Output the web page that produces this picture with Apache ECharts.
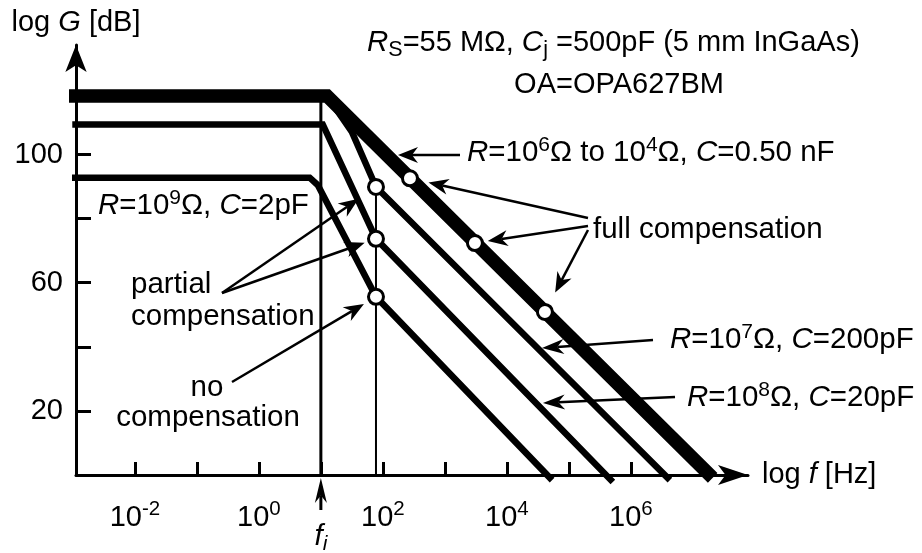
<!DOCTYPE html>
<html>
<head>
<meta charset="utf-8">
<title>Photodiode amplifier gain vs frequency</title>
<script src="https://cdn.jsdelivr.net/npm/echarts@6.0.0/dist/echarts.min.js"></script>
<style>
html, body { margin: 0; padding: 0; background: #fff; }
#chart { width: 922px; height: 553px; }
</style>
</head>
<body>
<div id="chart"></div>
<script>
// Decade positions on the frequency axis (log10 f) and gain axis (dB)
const freqTicks = [-2, -1, 0, 1, 2, 3, 4, 5, 6];
const freqLabels = [-2, 0, 2, 4, 6];
const gainTicks = [20, 40, 60, 80, 100];
const gainLabels = [20, 60, 100];

// Bode asymptotes, [log10 f, gain in dB]
const fullCompensation = [[-3.1, 118.3], [1.1, 118.3], [7.32, -0.9]];
const curveR7 = [[-3.1, 118.3], [1.1, 118.3], [1.5, 107.1], [1.889, 89.9], [6.63, -1.6]];
const curveR8 = [[-3.01, 109.4], [1.03, 109.4], [1.889, 73.7], [5.71, -2.2]];
const curveR9 = [[-3.02, 92.8], [0.82, 92.8], [0.95, 90.5], [1.889, 55.6], [4.73, -1.6]];

// Circled points on the curves
const fullPoints = [[2.437, 92.6], [3.485, 72.4], [4.614, 50.9]];
const partialPoints = [[1.889, 89.9], [1.889, 73.7]];
const noCompPoints = [[1.889, 55.6]];

// Vertical markers: input corner f_i and the frequency of the circled points
const fiLine = [[1.0, 0], [1.0, 118.3]];
const markerLine = [[1.889, 0], [1.889, 89.9]];

const FONT = '"Liberation Sans", Arial, Helvetica, sans-serif';
const BLACK = '#000';
const TEXT_SIZE = 29.5;

const chart = echarts.init(document.getElementById('chart'), null, { renderer: 'canvas' });

const axisRich = {
  n: { fontSize: 29, fontFamily: FONT, color: BLACK },
  s: { fontSize: 20.5, fontFamily: FONT, color: BLACK, padding: [0, 0, 16, 0] },
  i: { fontSize: 29, fontFamily: FONT, color: BLACK, fontStyle: 'italic' }
};

function curve(data, width, z) {
  return {
    type: 'line', data, symbol: 'none', clip: false, silent: true, animation: false, z: z || 3,
    lineStyle: { color: BLACK, width, join: 'miter', cap: 'butt' }
  };
}
function circles(data) {
  return {
    type: 'scatter', data, symbol: 'circle', symbolSize: 15, clip: false, silent: true, animation: false, z: 6,
    itemStyle: { color: '#fff', borderColor: BLACK, borderWidth: 3, opacity: 1 }
  };
}

chart.setOption({
  animation: false,
  backgroundColor: '#fff',
  grid: { left: 76, right: 174, top: 45, bottom: 78, containLabel: false, outerBoundsMode: 'none' },
  xAxis: {
    type: 'value', min: -2.95, max: 7.89,
    name: 'log {i|f} [Hz]', nameLocation: 'end', nameGap: 14,
    nameTextStyle: { fontSize: 29, fontFamily: FONT, color: BLACK, rich: axisRich, align: 'left', verticalAlign: 'middle' },
    axisLine: { show: true, onZero: false, lineStyle: { color: BLACK, width: 3 }, symbol: ['none', 'arrow'], symbolSize: [15, 30] },
    axisTick: { show: true, inside: true, length: 13, lineStyle: { color: BLACK, width: 3 }, customValues: freqTicks },
    axisLabel: { show: true, customValues: freqLabels, margin: 24, color: BLACK, rich: axisRich,
      formatter: v => '{n|10}{s|' + v + '}' },
    splitLine: { show: false }
  },
  yAxis: {
    type: 'value', min: 0, max: 134.2,
    name: 'log {i|G} [dB]', nameLocation: 'end', nameGap: 22,
    nameTextStyle: { fontSize: 29, fontFamily: FONT, color: BLACK, rich: axisRich, align: 'center', verticalAlign: 'middle' },
    axisLine: { show: true, onZero: false, lineStyle: { color: BLACK, width: 3 }, symbol: ['none', 'arrow'], symbolSize: [16, 27] },
    axisTick: { show: true, inside: true, length: 15, lineStyle: { color: BLACK, width: 3 }, customValues: gainTicks },
    axisLabel: { show: true, customValues: gainLabels, margin: 13, fontSize: 29, fontFamily: FONT, color: BLACK },
    splitLine: { show: false }
  },
  series: [
    curve(fiLine, 3, 2),
    curve(markerLine, 2, 2),
    curve(curveR9, 6.5),
    curve(curveR8, 6.5),
    curve(curveR7, 6.5),
    curve(fullCompensation, 13.5, 4),
    circles(fullPoints),
    circles(partialPoints),
    circles(noCompPoints)
  ]
});

// ---- captions and callout arrows ----
const toPx = p => chart.convertToPixel({ xAxisIndex: 0, yAxisIndex: 0 }, p);

const textRich = {
  i: { fontSize: TEXT_SIZE, fontFamily: FONT, fontStyle: 'italic', fill: BLACK },
  sup: { fontSize: 21, fontFamily: FONT, fill: BLACK, padding: [0, 0, 16, 0] },
  sub: { fontSize: 21.5, fontFamily: FONT, fill: BLACK, padding: [14, 0, 0, 0] },
  isub: { fontSize: 21, fontFamily: FONT, fontStyle: 'italic', fill: BLACK, padding: [14, 0, 0, 0] }
};
function caption(x, y, text, align, size) {
  return {
    type: 'text', x, y, silent: true, z: 10,
    style: { text, rich: textRich, font: (size || TEXT_SIZE) + 'px ' + FONT, fill: BLACK, align: align || 'left', verticalAlign: 'middle' }
  };
}
function arrow(tail, tip, len, half, width) {
  const dx = tip[0] - tail[0], dy = tip[1] - tail[1];
  const d = Math.hypot(dx, dy), ux = dx / d, uy = dy / d, nx = -uy, ny = ux;
  const base = [tip[0] - ux * len, tip[1] - uy * len];
  const notch = [tip[0] - ux * len * 0.7, tip[1] - uy * len * 0.7];
  return [
    { type: 'line', silent: true, z: 9, shape: { x1: tail[0], y1: tail[1], x2: notch[0], y2: notch[1] },
      style: { stroke: BLACK, lineWidth: width || 2.5 } },
    { type: 'polygon', silent: true, z: 9,
      shape: { points: [tip, [base[0] + nx * half, base[1] + ny * half], notch, [base[0] - nx * half, base[1] - ny * half]] },
      style: { fill: BLACK } }
  ];
}
// Head at a data point, pulled back toward the tail by gap pixels
function callout(tail, target, gap, len, half, width) {
  const p = toPx(target);
  const dx = tail[0] - p[0], dy = tail[1] - p[1], d = Math.hypot(dx, dy);
  const tip = [p[0] + dx / d * gap, p[1] + dy / d * gap];
  return arrow(tail, tip, len || 20, half || 8, width);
}

const graphics = [].concat(
  caption(367, 43, '{i|R}{sub|S}=55 MΩ, {i|C}{sub|j} =500pF (5 mm InGaAs)', 'left', 29),
  caption(619, 85, 'OA=OPA627BM', 'center', 29),
  caption(467, 153, '{i|R}=10{sup|6}Ω to 10{sup|4}Ω, {i|C}=0.50 nF'),
  caption(593, 230, 'full compensation'),
  caption(98, 206, '{i|R}=10{sup|9}Ω, {i|C}=2pF'),
  caption(131, 285, 'partial'),
  caption(131, 317, 'compensation'),
  caption(207, 388, 'no', 'center'),
  caption(208, 418, 'compensation', 'center'),
  caption(670, 340, '{i|R}=10{sup|7}Ω, {i|C}=200pF'),
  caption(687, 398, '{i|R}=10{sup|8}Ω, {i|C}=20pF'),
  caption(321, 537, '{i|f}{isub|i}', 'center'),
  callout([460, 155], [2.244, 99.9], 0),
  callout([588, 218], fullPoints[0], 19),
  callout([588, 226], fullPoints[1], 13),
  callout([588, 230], fullPoints[2], 22),
  callout([222, 293], partialPoints[0], 21),
  callout([222, 293], partialPoints[1], 12),
  callout([232, 382], noCompPoints[0], 14),
  callout([653, 340], [4.566, 39.6], 0, 22, 7.5),
  callout([675, 397], [4.582, 22.5], 0, 22, 7.5),
  callout([toPx(fiLine[0])[0], 510], fiLine[0], 3, 25, 6, 3)
);

chart.setOption({ graphic: { elements: graphics } });
</script>
</body>
</html>
